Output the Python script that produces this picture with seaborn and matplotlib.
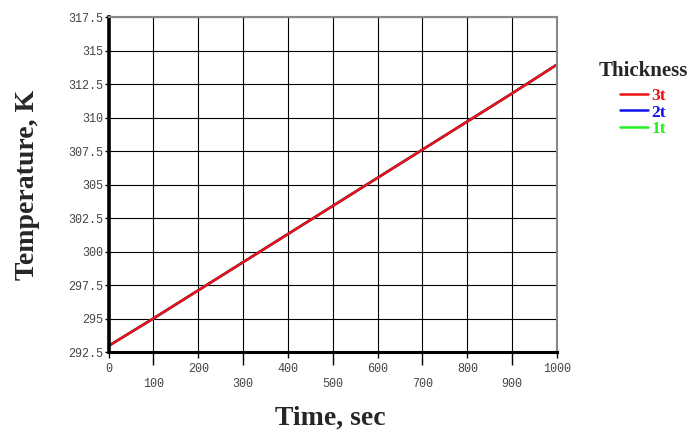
import matplotlib
matplotlib.use("Agg")
import matplotlib.pyplot as plt
import seaborn as sns
import pandas as pd
import numpy as np

time_sec = [0, 100, 200, 300, 400, 500, 600, 700, 800, 900, 1000]
temp_3t = [292.95, 295.0, 297.1, 299.2, 301.3, 303.4, 305.5, 307.6, 309.7, 311.8, 313.95]
temp_2t = [292.95, 295.0, 297.1, 299.2, 301.3, 303.4, 305.5, 307.6, 309.7, 311.8, 313.95]
temp_1t = [292.95, 295.0, 297.1, 299.2, 301.3, 303.4, 305.5, 307.6, 309.7, 311.8, 313.95]
series_names = ["3t", "2t", "1t"]
series_colors = {"3t": "#ee1111", "2t": "#1111ee", "1t": "#22ee22"}
y_ticks = [292.5, 295, 297.5, 300, 302.5, 305, 307.5, 310, 312.5, 315, 317.5]
y_tick_labels = ["292.5", "295", "297.5", "300", "302.5", "305", "307.5", "310", "312.5", "315", "317.5"]
x_major = [0, 200, 400, 600, 800, 1000]
x_minor = [100, 300, 500, 700, 900]

df = pd.concat([
    pd.DataFrame({"Time": time_sec, "Temp": temp_1t, "Thickness": "1t"}),
    pd.DataFrame({"Time": time_sec, "Temp": temp_2t, "Thickness": "2t"}),
    pd.DataFrame({"Time": time_sec, "Temp": temp_3t, "Thickness": "3t"}),
])

sns.set_style("white")
fig = plt.figure(figsize=(6.93, 4.36), dpi=100)
ax = fig.add_axes([108.5 / 693, 1 - 352 / 436, (557 - 108.5) / 693, (352 - 17) / 436])

for name in ["1t", "2t", "3t"]:
    sub = df[df["Thickness"] == name]
    sns.lineplot(data=sub, x="Time", y="Temp", color=series_colors[name], lw=1.8,
                 ax=ax, label=name, legend=False)

ax.set_xlim(0, 1000)
ax.set_ylim(292.5, 317.5)
mono = "Liberation Mono"
ax.set_yticks(y_ticks)
ax.set_yticklabels(y_tick_labels, family=mono, fontsize=8.5, color="#444444")
ax.set_xticks(x_major)
ax.set_xticklabels([str(v) for v in x_major], family=mono, fontsize=8.5, color="#444444")
ax.set_xticks(x_minor, minor=True)
ax.set_xticklabels([str(v) for v in x_minor], minor=True, family=mono, fontsize=8.5, color="#444444")
ax.tick_params(axis="x", which="major", length=4, width=1, color="black", pad=4, direction="out", bottom=True)
ax.tick_params(axis="x", which="minor", length=9, width=1, color="black", pad=10, direction="out", bottom=True)
ax.tick_params(axis="y", which="major", length=3, width=1, color="black", pad=1, direction="out", left=True)

ax.grid(True, which="both", color="black", lw=0.8)
ax.set_axisbelow(True)

ax.spines["left"].set_color("black")
ax.spines["left"].set_linewidth(2.6)
ax.spines["bottom"].set_color("black")
ax.spines["bottom"].set_linewidth(2.2)
for s in ["top", "right"]:
    ax.spines[s].set_color("#888888")
    ax.spines[s].set_linewidth(1.5)

serif = "Liberation Serif"
ax.set_xlabel("")
ax.set_ylabel("")
fig.text(330 / 693, 1 - 418 / 436, "Time, sec", family=serif, weight="bold", fontsize=20,
         ha="center", va="center")
fig.text(28 / 693, 1 - 185 / 436, "Temperature, K", family=serif, weight="bold", fontsize=20,
         ha="center", va="center", rotation=90)

handles, labels = ax.get_legend_handles_labels()
order = [labels.index(n) for n in series_names]
leg = ax.legend([handles[i] for i in order], [labels[i] for i in order],
                title="Thickness", loc="center", bbox_to_anchor=(643 / 693, 1 - 99 / 436),
                bbox_transform=fig.transFigure, frameon=False,
                prop={"family": serif, "weight": "bold", "size": 12.5},
                title_fontproperties={"family": serif, "weight": "bold", "size": 15},
                handlelength=1.6, handletextpad=0.2, labelspacing=0.0, borderpad=0,
                labelcolor=[series_colors[n] for n in series_names])
leg._legend_box.sep = 5

fig.savefig("out.png", dpi=100, facecolor="white")
